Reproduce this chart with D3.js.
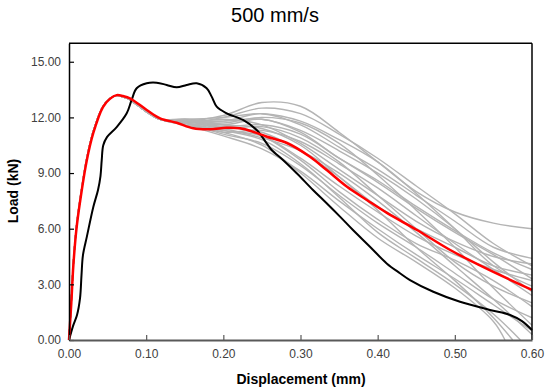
<!DOCTYPE html>
<html>
<head>
<meta charset="utf-8">
<script src="https://cdn.jsdelivr.net/npm/d3@7"></script>
<style>
  body { margin: 0; background: #fff; }
  text { font-family: Arial, "Liberation Sans", sans-serif; }
</style>
</head>
<body>
<div id="chart"></div>
<script>
const width = 550;
const height = 391;

const title = "500 mm/s";
const xLabel = "Displacement (mm)";
const yLabel = "Load (kN)";

const xTicks = [0, 0.1, 0.2, 0.3, 0.4, 0.5, 0.6];
const yTicks = [0, 3, 6, 9, 12, 15];

// mean curve (red)
const meanX = [0, 0.003, 0.0056, 0.0097, 0.0143, 0.0229, 0.0315, 0.044, 0.053, 0.0618, 0.070, 0.079,
               0.1007, 0.118, 0.1396, 0.161, 0.183, 0.2044, 0.2216, 0.2384, 0.2566, 0.2825, 0.3123,
               0.334, 0.3603, 0.386, 0.412, 0.451, 0.494, 0.5365, 0.6];
const meanY = [0, 2.0, 4.0, 6.0, 7.45, 9.65, 11.16, 12.56, 13.0, 13.2, 13.15, 13.03,
               12.4, 11.95, 11.71, 11.41, 11.36, 11.44, 11.41, 11.23, 10.96, 10.62, 9.88,
               9.16, 8.26, 7.55, 6.85, 5.93, 4.85, 3.94, 2.7];

// single highlighted specimen (black)
const blackX = [0, 0.0052, 0.0104, 0.0143, 0.0162, 0.0181, 0.0233, 0.0315, 0.0376, 0.0408, 0.0424,
                0.0444, 0.0492, 0.0618, 0.0748, 0.0812, 0.0877, 0.1007, 0.1136, 0.1266, 0.1396,
                0.1525, 0.1655, 0.1784, 0.1849, 0.1914, 0.2044, 0.2255, 0.2432, 0.2562, 0.2627,
                0.2773, 0.2951, 0.3162, 0.3339, 0.3512, 0.368, 0.39, 0.4117, 0.4289, 0.4419,
                0.4721, 0.5067, 0.5455, 0.5715, 0.587, 0.6];
const blackY = [0, 0.75, 1.35, 2.26, 3.5, 4.58, 5.6, 7.17, 8.09, 8.84, 9.7,
                10.5, 10.94, 11.48, 12.22, 12.94, 13.57, 13.84, 13.87, 13.75, 13.62,
                13.75, 13.84, 13.57, 13.12, 12.58, 12.22, 11.86, 11.32, 10.6, 10.24,
                9.7, 8.99, 8.09, 7.37, 6.65, 5.93, 5.03, 4.13, 3.6, 3.23,
                2.6, 2.06, 1.62, 1.35, 1.02, 0.54];

// other specimens (grey): common loading branch, then individual softening tails
const riseX = [0, 0.003, 0.0056, 0.0097, 0.0143, 0.0229, 0.0315, 0.044, 0.053, 0.0618, 0.070, 0.079, 0.1007, 0.118];
const riseY = [0, 2.1, 4.1, 6.1, 7.55, 9.75, 11.25, 12.6, 13.02, 13.18, 13.1, 12.95, 12.3, 11.9];
const tailX = [0.15, 0.2, 0.25, 0.3, 0.35, 0.4, 0.45, 0.5, 0.55, 0.6];
const greyTails = [
  [11.8, 12.1, 12.8, 12.6, 11.2, 9.6, 8.0, 6.9, 6.3, 6.0],
  [11.7, 12.0, 12.5, 12.2, 11.1, 9.8, 8.3, 6.8, 5.2, 4.0],
  [11.9, 11.8, 12.2, 11.6, 10.4, 9.2, 7.8, 6.4, 5.0, 4.4],
  [11.8, 11.6, 11.9, 11.2, 9.8, 8.6, 7.2, 5.9, 4.7, 3.8],
  [11.7, 11.9, 11.6, 10.6, 9.2, 7.8, 6.4, 5.3, 4.5, 4.1],
  [11.8, 11.5, 11.2, 10.2, 8.8, 7.2, 6.0, 5.0, 4.0, 3.5],
  [11.6, 11.3, 11.0, 9.8, 8.3, 6.9, 5.6, 4.6, 3.8, 3.2],
  [11.7, 11.2, 11.3, 10.7, 9.5, 8.2, 6.7, 5.2, 3.8, 2.4],
  [11.8, 11.4, 11.5, 10.9, 9.6, 7.8, 6.0, 4.2, 2.9, 2.0],
  [11.9, 11.6, 11.0, 9.7, 8.0, 6.5, 5.2, 4.3, 3.2, 1.8],
  [11.7, 11.1, 10.6, 9.4, 7.8, 6.3, 5.0, 3.6, 2.2, 1.2],
  [11.8, 11.7, 12.0, 11.7, 10.6, 8.9, 7.0, 5.0, 2.8, 0.8],
  [11.6, 11.0, 10.3, 9.1, 7.5, 6.0, 4.6, 3.3, 1.9, 0.5],
  [11.8, 11.4, 10.9, 10.2, 9.0, 7.5, 5.8, 4.0, 2.2, 0.3],
  [11.7, 11.3, 10.8, 9.5, 7.7, 5.8, 4.4, 3.0, 1.4, 0],
  [11.8, 11.6, 11.4, 10.5, 8.8, 7.0, 5.0, 3.2, 1.2, 0],
  [11.7, 11.2, 10.5, 9.0, 7.2, 5.5, 4.2, 2.8, 1.0, 0],
  [11.8, 11.8, 11.9, 11.3, 10.2, 9.0, 7.6, 6.0, 4.2, 2.6],
  [11.7, 11.5, 11.6, 11.1, 9.8, 8.5, 7.1, 5.8, 4.6, 3.3],
  [11.9, 12.0, 12.2, 11.8, 10.8, 9.6, 7.9, 6.0, 4.0, 2.9]
];
// displacement of each grey curve's final point (some reach zero load early)
const greyLastX = [0.6, 0.6, 0.6, 0.6, 0.6, 0.6, 0.6, 0.6, 0.6, 0.6,
                   0.6, 0.6, 0.6, 0.6, 0.585, 0.575, 0.565, 0.6, 0.6, 0.6];

const xScale = d3.scaleLinear().domain([0, 0.6]).range([69, 532]);
const yScale = d3.scaleLinear().domain([0, 16]).range([340, 43.2]);

const svg = d3.select("#chart").append("svg")
    .attr("width", width)
    .attr("height", height);

const line = d3.line()
    .x(d => xScale(d[0]))
    .y(d => yScale(d[1]))
    .curve(d3.curveCatmullRom.alpha(0.5));

function zip(xs, ys) {
    return xs.map((x, i) => [x, ys[i]]);
}

// grey curves
greyTails.forEach(function(tail, k) {
    var pts = zip(riseX, riseY);
    tail.forEach(function(v, i) {
        var x = (i == tail.length - 1) ? greyLastX[k] : tailX[i];
        pts.push([x, v]);
    });
    svg.append("path")
        .attr("d", line(pts))
        .attr("fill", "none")
        .attr("stroke", "#b4b4b4")
        .attr("stroke-width", 1.4);
});

svg.append("path")
    .attr("d", line(zip(blackX, blackY)))
    .attr("fill", "none")
    .attr("stroke", "#000")
    .attr("stroke-width", 2);

svg.append("path")
    .attr("d", line(zip(meanX, meanY)))
    .attr("fill", "none")
    .attr("stroke", "#ff0000")
    .attr("stroke-width", 2.5);

// frame top + right
svg.append("line")
    .attr("x1", 69).attr("x2", 532).attr("y1", 43.2).attr("y2", 43.2)
    .attr("stroke", "#000").attr("stroke-width", 1.5);
svg.append("line")
    .attr("x1", 532).attr("x2", 532).attr("y1", 43.2).attr("y2", 340)
    .attr("stroke", "#000").attr("stroke-width", 1.5);

// axes
var yAxis = d3.axisLeft(yScale)
    .tickValues(yTicks)
    .tickFormat(d3.format(".2f"))
    .tickSizeInner(-5)
    .tickSizeOuter(0)
    .tickPadding(8);

var xAxis = d3.axisBottom(xScale)
    .tickValues(xTicks)
    .tickFormat(d3.format(".2f"))
    .tickSizeInner(-5)
    .tickSizeOuter(0)
    .tickPadding(9);

var gy = svg.append("g")
    .attr("transform", "translate(69,0)")
    .call(yAxis);
gy.select(".domain").attr("stroke", "#000").attr("stroke-width", 1.5);
gy.selectAll(".tick line").attr("stroke", "#000").attr("stroke-width", 1.2);
gy.selectAll(".tick text").attr("font-size", 12).attr("fill", "#404040")
    .style("font-family", "Arial, 'Liberation Sans', sans-serif");

var gx = svg.append("g")
    .attr("transform", "translate(0,340)")
    .call(xAxis);
gx.select(".domain").attr("stroke", "#595959").attr("stroke-width", 2);
gx.selectAll(".tick line").attr("stroke", "#595959").attr("stroke-width", 1.2);
gx.selectAll(".tick text").attr("font-size", 12).attr("fill", "#404040")
    .style("font-family", "Arial, 'Liberation Sans', sans-serif");

// labels
svg.append("text")
    .attr("x", 275)
    .attr("y", 22)
    .attr("text-anchor", "middle")
    .attr("font-size", 20)
    .attr("fill", "#000")
    .text(title);

svg.append("text")
    .attr("x", 301)
    .attr("y", 384)
    .attr("text-anchor", "middle")
    .attr("font-size", 14)
    .attr("font-weight", "bold")
    .attr("fill", "#000")
    .text(xLabel);

svg.append("text")
    .attr("transform", "translate(18,191) rotate(-90)")
    .attr("text-anchor", "middle")
    .attr("font-size", 14)
    .attr("font-weight", "bold")
    .attr("fill", "#000")
    .text(yLabel);
</script>
</body>
</html>
